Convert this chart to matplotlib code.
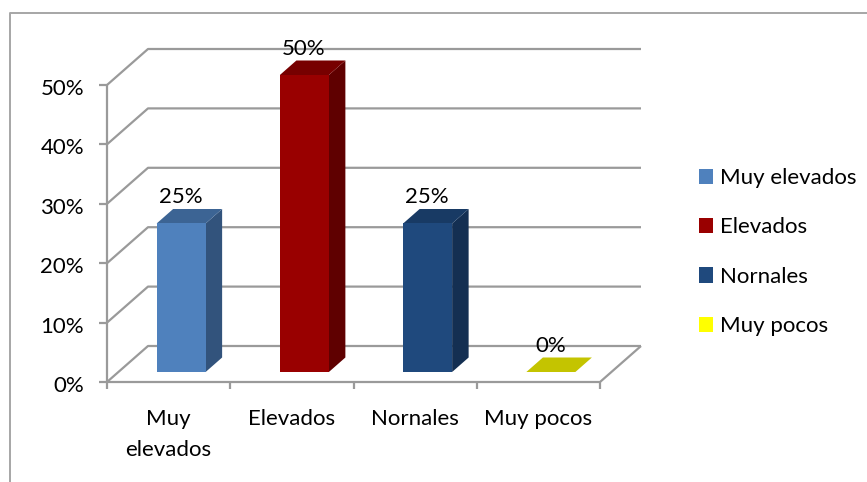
import matplotlib
matplotlib.use("Agg")
import matplotlib.pyplot as plt
from matplotlib.patches import Polygon, Patch

plt.rcParams['font.family'] = ['Lato', 'DejaVu Sans']

categories = ["Muy\nelevados", "Elevados", "Nornales", "Muy pocos"]
legend_labels = ["Muy elevados", "Elevados", "Nornales", "Muy pocos"]
values = [25, 50, 25, 0]
labels = ["25%", "50%", "25%", "0%"]
yticks = [0, 10, 20, 30, 40, 50]
front_colors = ["#4F81BD", "#990000", "#1F497D", "#FFFF00"]
top_colors = ["#3C6494", "#770000", "#183A64", "#C4C400"]
side_colors = ["#32537C", "#5F0000", "#142F52", "#A0A000"]

W, H = 867, 482
FS = 16
TXT = "#000000"
fig = plt.figure(figsize=(W / 100, H / 100), dpi=100, facecolor="white")
L, R, T, B = 107, 600, 85, 382
ax = fig.add_axes([L / W, 1 - B / H, (R - L) / W, (B - T) / H])
ax.set_xlim(0, 4)
ax.set_ylim(0, 50)
ax.axis("off")

GRAY = "#9A9A9A"
px = 4 / (R - L)        # data units per pixel, x
py = 50 / (B - T)       # data units per pixel, y
dx, dy = 41 * px, 36 * py

# outer frame
fig.add_artist(plt.Line2D([9.5 / W, 9.5 / W, 1], [0, 1 - 12.5 / H, 1 - 12.5 / H],
                          color="#A6A6A6", lw=1.4))

def line(xs, ys, **kw):
    ax.plot(xs, ys, color=GRAY, lw=1.6, clip_on=False, solid_capstyle="butt", **kw)

# walls and gridlines
for v in yticks:
    line([0, dx, 4 + dx], [v, v + dy, v + dy])
    line([-8 * px, 0], [v, v])
    ax.text(-23 * px, v - 10 * py, f"{v}%", ha="right", va="baseline", fontsize=FS, color=TXT)
line([0, 0], [0, 50])
line([0, 4, 4 + dx], [0, 0, dy])
for i in range(5):
    line([i, i], [0, -7 * py])

# bars
bw = 49 * px
ox, oy = 12.5 * px, 10 * py
bdx, bdy = 16.5 * px, 14.5 * py
for i, v in enumerate(values):
    x0 = i + 0.5 + ox - bw / 2
    x1 = x0 + bw
    y0, y1 = oy, oy + v
    ax.add_patch(Polygon([(x1, y0), (x1 + bdx, y0 + bdy), (x1 + bdx, y1 + bdy), (x1, y1)],
                         fc=side_colors[i], ec="none", clip_on=False, zorder=3))
    ax.add_patch(Polygon([(x0, y1), (x1, y1), (x1 + bdx, y1 + bdy), (x0 + bdx, y1 + bdy)],
                         fc=top_colors[i], ec="none", clip_on=False, zorder=3))
    if v > 0:
        ax.add_patch(Polygon([(x0, y0), (x1, y0), (x1, y1), (x0, y1)],
                             fc=front_colors[i], ec="none", clip_on=False, zorder=3))
    ax.text(i + 0.5 + 12 * px, y1 + bdy + 5.5 * py, labels[i], ha="center", va="baseline",
            fontsize=FS, color=TXT, zorder=4)

# category labels
for i, c in enumerate(categories):
    ax.text(i + 0.5, -27 * py, c, ha="center", va="top", fontsize=FS,
            color=TXT, linespacing=1.7)

handles = [Patch(fc=c, ec="none") for c in front_colors]
fig.legend(handles, legend_labels, loc="center left", bbox_to_anchor=(699 / W, 1 - 252 / H),
           frameon=False, fontsize=FS, handlelength=0.63, handleheight=0.68,
           handletextpad=0.3, labelspacing=1.32, labelcolor=TXT,
           borderpad=0, borderaxespad=0)

fig.savefig("out.png", dpi=100, facecolor="white")
